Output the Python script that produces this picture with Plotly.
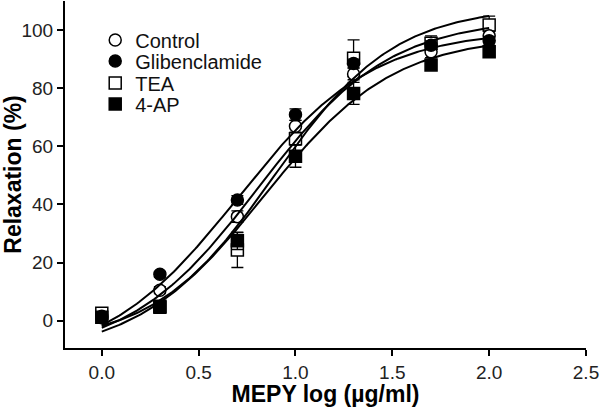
import numpy as np
import plotly.graph_objects as go

# ---- data ----
log_dose = [0.0, 0.3, 0.7, 1.0, 1.3, 1.7, 2.0]

control = [1.5, 10.5, 35.8, 66.9, 84.9, 92.5, 98.0]
control_err = [0.8, 1.2, 2.0, 2.0, 2.0, 2.0, 1.5]

glibenclamide = [1.0, 16.0, 41.5, 70.9, 88.5, 94.8, 96.3]
glibenclamide_err = [0.5, 1.0, 1.5, 2.0, 1.5, 1.5, 1.5]

tea = [2.6, 5.0, 24.3, 62.6, 90.3, 95.5, 101.7]
tea_err = [1.0, 1.5, 6.0, 2.0, 6.3, 2.5, 3.1]

four_ap = [1.2, 4.6, 27.5, 56.6, 78.2, 88.0, 92.5]
four_ap_err = [1.0, 1.5, 3.0, 3.8, 3.8, 1.5, 1.5]

# sigmoidal (4-parameter logistic) fit parameters
# order: Control, Glibenclamide, TEA, 4-AP
fit_bottom = [-12.0, -15.0, -8.0, -12.0]
fit_top = [104.0, 100.0, 108.0, 98.0]
fit_log_ec50 = [0.811, 0.705, 0.892, 0.839]
fit_hill = [1.29, 1.25, 1.40, 1.30]

x_ticks = [0.0, 0.5, 1.0, 1.5, 2.0, 2.5]
y_ticks = [0, 20, 40, 60, 80, 100]

FONT = "Liberation Sans, Arial, Helvetica, sans-serif"


def logistic(xs, bottom, top, log_ec50, hill):
    return bottom + (top - bottom) / (1.0 + 10.0 ** ((log_ec50 - xs) * hill))


names = ["Control", "Glibenclamide", "TEA", "4-AP"]
values = {"Control": control, "Glibenclamide": glibenclamide,
          "TEA": tea, "4-AP": four_ap}
errors = {"Control": control_err, "Glibenclamide": glibenclamide_err,
          "TEA": tea_err, "4-AP": four_ap_err}
symbols = {"Control": "circle", "Glibenclamide": "circle",
           "TEA": "square", "4-AP": "square"}
legend_ids = {"Control": "legend", "Glibenclamide": "legend2",
              "TEA": "legend3", "4-AP": "legend4"}
open_series = {"Control", "TEA"}
draw_order = ["TEA", "Control", "Glibenclamide", "4-AP"]

fig = go.Figure()

for name in draw_order:
    is_open = name in open_series
    fig.add_trace(go.Scatter(
        x=log_dose, y=values[name], mode="markers", name=name,
        legend=legend_ids[name],
        error_y=dict(type="data", array=errors[name], visible=True,
                     color="black", thickness=1.3, width=6),
        marker=dict(symbol=symbols[name], size=12,
                    color="white" if is_open else "black",
                    line=dict(color="black", width=1.5)),
    ))

xs = np.linspace(min(log_dose), max(log_dose), 200)
for i, name in enumerate(names):
    fig.add_trace(go.Scatter(
        x=xs,
        y=logistic(xs, fit_bottom[i], fit_top[i], fit_log_ec50[i], fit_hill[i]),
        mode="lines", showlegend=False,
        line=dict(color="black", width=2), hoverinfo="skip",
    ))

# one legend per entry so the row spacing can follow the reference
plot_top, plot_bot = 1, 348
rows = {"legend": 40, "legend2": 61, "legend3": 83, "legend4": 104}
leg_layout = {}
for key, py in rows.items():
    leg_layout[key] = dict(
        x=0.058, xanchor="left",
        y=(plot_bot - py) / (plot_bot - plot_top), yanchor="middle",
        bgcolor="rgba(0,0,0,0)", borderwidth=0,
        font=dict(family=FONT, size=20, color="#111"),
        itemwidth=30,
    )

axis_common = dict(
    showline=True, linecolor="black", linewidth=2,
    ticks="outside", ticklen=6, tickwidth=1.5, tickcolor="black",
    showgrid=False, zeroline=False, ticklabeloverflow="allow",
    tickfont=dict(family=FONT, size=19, color="#222"),
)

fig.update_layout(
    width=600, height=407,
    margin=dict(l=65, r=14, t=plot_top, b=407 - plot_bot),
    paper_bgcolor="white", plot_bgcolor="white",
    font=dict(family=FONT, color="#111"),
    xaxis=dict(
        range=[-0.19, 2.5], tickvals=x_ticks, tickformat=".1f",
        title=dict(text="<b>MEPY log (µg/ml)</b>", standoff=3,
                   font=dict(family=FONT, size=23, color="black")),
        **axis_common,
    ),
    yaxis=dict(
        range=[-9.4, 110], tickvals=y_ticks,
        title=dict(text="<b>Relaxation (%)</b>", standoff=4,
                   font=dict(family=FONT, size=23, color="black")),
        **axis_common,
    ),
    **leg_layout,
)

fig.write_html(
    "out.html",
    config={"displayModeBar": False},
    post_script="document.body.style.margin='0';document.body.style.padding='0';",
)
